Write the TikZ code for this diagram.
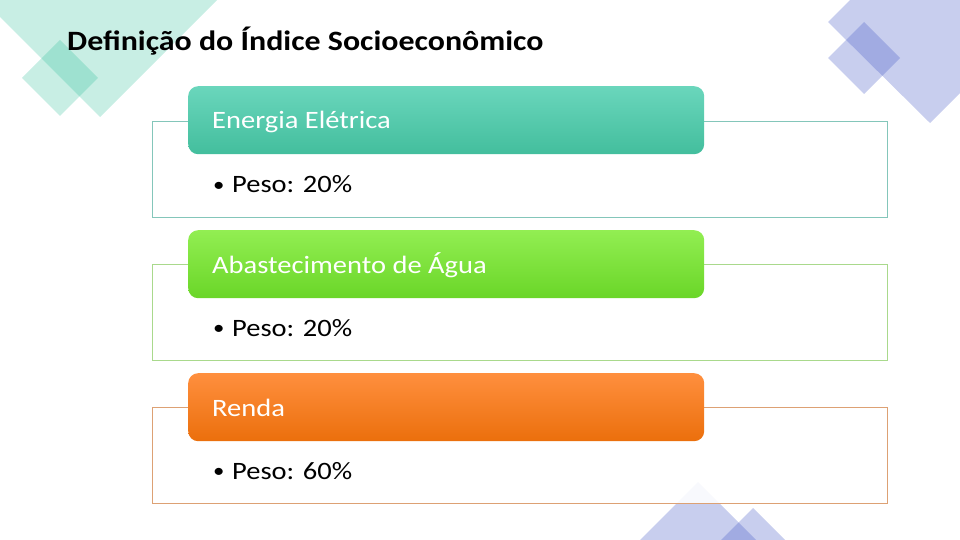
\documentclass[tikz,border=0pt]{standalone}
\usepackage{fontspec}
\setmainfont{Carlito}[FakeStretch=1.14]
\definecolor{tealdeco}{HTML}{23BB93}
\definecolor{bluedeco}{HTML}{485CC6}
\definecolor{tealtop}{HTML}{6AD6BC}
\definecolor{tealbot}{HTML}{43BE9D}
\definecolor{tealline}{HTML}{84C6BA}
\definecolor{greentop}{HTML}{92EE52}
\definecolor{greenbot}{HTML}{6AD628}
\definecolor{greenline}{HTML}{A9D98C}
\definecolor{orangetop}{HTML}{FF8F3E}
\definecolor{orangebot}{HTML}{EB6F0C}
\definecolor{orangeline}{HTML}{DDA174}
\tikzset{
  deco/.style={draw=none, fill opacity=#1},
  outerbox/.style={draw=#1, line width=1pt, fill=white, fill opacity=0.9, text opacity=1,
    minimum width=735pt, minimum height=96pt, anchor=north west, inner sep=0pt},
  headbox/.style args={#1/#2}{rounded corners=10pt, top color=#1, bottom color=#2, draw=none,
    minimum width=516pt, minimum height=68pt, anchor=north west, inner sep=0pt},
  headtext/.style={anchor=base west, inner sep=0pt, text=white, font=\fontsize{25}{30}\selectfont},
  bullettext/.style={anchor=base west, inner sep=0pt, text=black, font=\fontsize{25}{30}\selectfont},
  titletext/.style={anchor=base west, inner sep=0pt, text=black, font=\fontsize{28}{32}\selectfont\bfseries}
}
\newcommand{\bul}{\makebox[19pt][l]{\raisebox{1.2pt}{\scalebox{0.8}{•}}}}
\begin{document}
\begin{tikzpicture}[x=1pt,y=-1pt]
\useasboundingbox (0,0) rectangle (960,540);
\clip (0,0) rectangle (960,540);
% decorations
\fill[tealdeco, deco=0.25] (100,117) -- (-50,-33) -- (100,-183) -- (250,-33) -- cycle;
\fill[tealdeco, deco=0.25] (60,40) -- (98,78) -- (60,116) -- (22,78) -- cycle;
\fill[bluedeco, deco=0.3] (828,22) -- (930,123) -- (1031,22) -- (929,-79) -- cycle;
\fill[bluedeco, deco=0.3] (864,22) -- (900,58) -- (864,94) -- (828,58) -- cycle;
\fill[bluedeco, deco=0.3] (698,482) -- (756,540) -- (698,598) -- (640,540) -- cycle;
\fill[bluedeco, deco=0.3] (753,508) -- (785,540) -- (753,572) -- (721,540) -- cycle;
% title
\node[titletext] (title) at (67,51) {Definição do Índice Socioeconômico};
% box 1
\node[outerbox=tealline] (b1) at (152,121) {};
\node[headbox=tealtop/tealbot] (h1) at (188,86) {};
\node[headtext] (t1) at (212,129) {Energia Elétrica};
\node[bullettext] (p1) at (213,193) {\bul Peso: 20\%};
% box 2
\node[outerbox=greenline] (b2) at (152,264) {};
\node[headbox=greentop/greenbot] (h2) at (188,230) {};
\node[headtext] (t2) at (212,273) {Abastecimento de Água};
\node[bullettext] (p2) at (213,336) {\bul Peso: 20\%};
% box 3
\node[outerbox=orangeline] (b3) at (152,407) {};
\node[headbox=orangetop/orangebot] (h3) at (188,373) {};
\node[headtext] (t3) at (212,416) {Renda};
\node[bullettext] (p3) at (213,479) {\bul Peso: 60\%};
\end{tikzpicture}
\end{document}
